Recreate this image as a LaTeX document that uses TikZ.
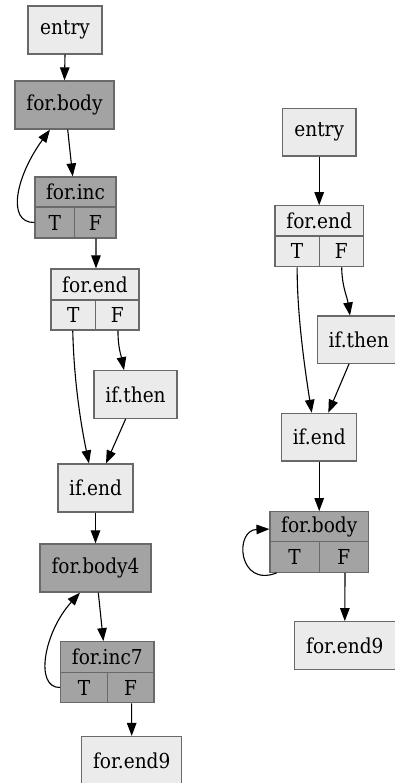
\documentclass[tikz,border=0pt]{standalone}
\usepackage{fontspec}
\setmainfont{DejaVu Serif}[FakeStretch=0.9]
\usetikzlibrary{arrows.meta}
\definecolor{blocklight}{RGB}{235,235,235}
\definecolor{blockdark}{RGB}{163,163,163}
\definecolor{blockline}{RGB}{105,105,105}
\begin{document}
\begin{tikzpicture}[x=1pt,y=-1pt,
  block/.style={draw=blockline, line width=1.2pt, inner sep=0pt,
    font=\fontsize{20.6}{24}\selectfont},
  light/.style={block, fill=blocklight},
  dark/.style={block, fill=blockdark},
  edge/.style={line width=1.1pt, -{Triangle[length=13pt,width=9.5pt]}}]
\useasboundingbox (0,0) rectangle (395,783);

% ---- left function ----
\node[light, minimum width=74pt, minimum height=48pt] (e1) at (65,30) {entry};
\node[dark, minimum width=99pt, minimum height=48pt] (b1) at (64.5,105) {for.body};
\node[dark, minimum width=81pt, minimum height=30pt] (inc1) at (75.5,192) {for.inc};
\node[dark, minimum width=39.7pt, minimum height=31pt] (inc1T) at (54.85,222.5) {T};
\node[dark, minimum width=41.3pt, minimum height=31pt] (inc1F) at (95.35,222.5) {F};
\node[light, minimum width=88pt, minimum height=31pt] (fe1) at (95,284.5) {for.end};
\node[light, minimum width=44.7pt, minimum height=30pt] (fe1T) at (73.35,315) {T};
\node[light, minimum width=43.3pt, minimum height=30pt] (fe1F) at (117.35,315) {F};
\node[light, minimum width=83pt, minimum height=47.5pt] (it1) at (135.5,394.5) {if.then};
\node[light, minimum width=75pt, minimum height=48pt] (ie1) at (95.5,488) {if.end};
\node[dark, minimum width=111pt, minimum height=48pt] (b4) at (95.5,568) {for.body4};
\node[dark, minimum width=93.3pt, minimum height=30.6pt] (inc7) at (107.35,657) {for.inc7};
\node[dark, minimum width=46.6pt, minimum height=30.4pt] (inc7T) at (84,687.5) {T};
\node[dark, minimum width=46.7pt, minimum height=30.4pt] (inc7F) at (130.65,687.5) {F};
\node[light, minimum width=100pt, minimum height=48pt] (fe9) at (131.7,760.5) {for.end9};

\draw[edge] (e1.south) -- (b1.north);
\draw[edge] ([xshift=3.2pt]b1.south) -- ([xshift=-2.8pt]inc1.north);
\draw[edge] (inc1T.west) .. controls (6,223) and (16,176) .. ([xshift=-14.5pt]b1.south);
\draw[edge] ([xshift=0.6pt]inc1F.south) -- ([xshift=1pt]fe1.north);
\draw[edge] ([xshift=-0.6pt]fe1T.south) .. controls (74,385) and (82,430) .. ([xshift=-6.5pt]ie1.north);
\draw[edge] ([xshift=0.6pt]fe1F.south) .. controls (118,348) and (121,355) .. ([xshift=-11.5pt]it1.north);
\draw[edge] ([xshift=-9.8pt]it1.south) -- ([xshift=10.5pt]ie1.north);
\draw[edge] (ie1.south) -- (b4.north);
\draw[edge] ([xshift=2.8pt]b4.south) -- ([xshift=-4pt]inc7.north);
\draw[edge] (inc7T.west) .. controls (34,688) and (44,632) .. ([xshift=-15.5pt]b4.south);
\draw[edge] ([xshift=1pt]inc7F.south) -- (fe9.north);

% ---- right function ----
\node[light, minimum width=73.7pt, minimum height=47.7pt] (e2) at (319.2,132.2) {entry};
\node[light, minimum width=88.3pt, minimum height=30.3pt] (fe2) at (319.2,220.9) {for.end};
\node[light, minimum width=44.3pt, minimum height=30.7pt] (fe2T) at (297.15,251.35) {T};
\node[light, minimum width=44pt, minimum height=30.7pt] (fe2F) at (341.3,251.35) {F};
\node[light, minimum width=83pt, minimum height=47.3pt] (it2) at (358.8,339.7) {if.then};
\node[light, minimum width=75pt, minimum height=47.7pt] (ie2) at (319.2,437.2) {if.end};
\node[dark, minimum width=98.3pt, minimum height=30pt] (fb2) at (319.2,526.7) {for.body};
\node[dark, minimum width=49.3pt, minimum height=30.6pt] (fb2T) at (294.65,557) {T};
\node[dark, minimum width=49pt, minimum height=30.6pt] (fb2F) at (343.8,557) {F};
\node[light, minimum width=101pt, minimum height=47.6pt] (fe92) at (344.8,645.5) {for.end9};

\draw[edge] (e2.south) -- (fe2.north);
\draw[edge] (fe2T.south) .. controls (297,315) and (305,370) .. ([xshift=-7.5pt]ie2.north);
\draw[edge] ([xshift=0.4pt]fe2F.south) .. controls (342,287) and (347,296) .. ([xshift=-8.8pt]it2.north);
\draw[edge] ([xshift=-9.8pt]it2.south) -- ([xshift=9.1pt]ie2.north);
\draw[edge] (ie2.south) -- (fb2.north);
\draw[edge] ([xshift=-18pt]fb2T.south) .. controls (238,588) and (234,530) .. ([yshift=-2.4pt]fb2.west);
\draw[edge] ([xshift=1.2pt]fb2F.south) -- (fe92.north);
\end{tikzpicture}
\end{document}
